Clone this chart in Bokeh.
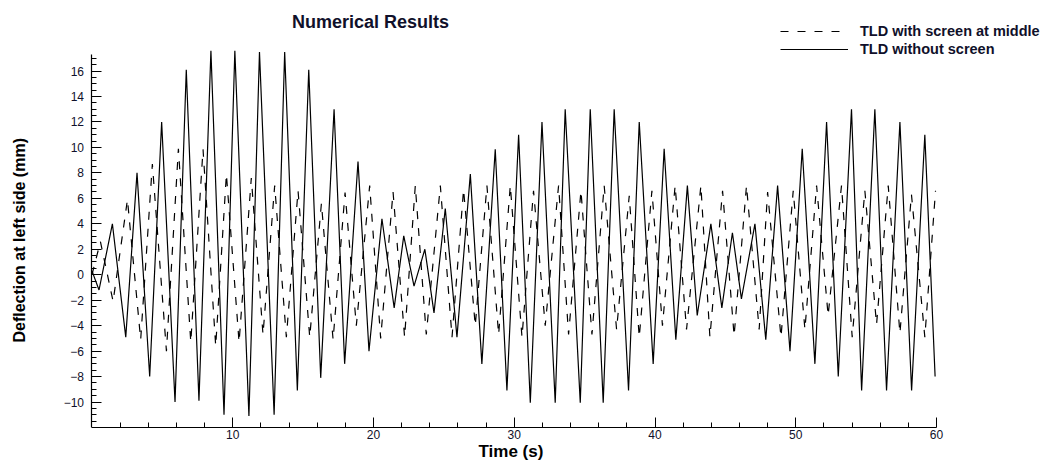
from bokeh.plotting import figure
from bokeh.models import Range1d, FixedTicker, Legend, LegendItem, Label, Title
from bokeh.embed import file_html
from bokeh.resources import INLINE

# TLD without screen (solid) : peaks and troughs
time_solid = [0.0, 0.5, 1.45, 2.4, 3.2, 4.1, 4.95, 5.9, 6.7, 7.6, 8.45, 9.38, 10.15, 11.15,
              11.9, 12.94, 13.69, 14.59, 15.4, 16.25, 17.2, 17.95, 18.9, 19.68, 20.6, 21.47,
              22.15, 22.88, 23.65, 24.3, 25.1, 25.93, 26.88, 27.7, 28.65, 29.48, 30.31, 31.14,
              31.97, 32.91, 33.62, 34.69, 35.4, 36.32, 37.1, 38.12, 38.88, 39.87, 40.65, 41.48,
              42.3, 43.0, 43.97, 44.75, 45.5, 46.14, 47.1, 47.87, 48.71, 49.59, 50.46, 51.36,
              52.19, 53.02, 53.96, 54.68, 55.62, 56.45, 57.4, 58.23, 59.17, 59.9]
defl_solid = [0.3, -1.2, 4.0, -4.9, 8.0, -8.0, 12.0, -10.0, 16.1, -9.9, 17.6, -11.0, 17.6, -11.1,
              17.5, -11.0, 17.5, -9.1, 16.1, -8.1, 13.0, -7.0, 8.9, -6.0, 4.4, -2.6,
              3.05, -0.9, 2.0, -3.0, 5.2, -4.9, 7.9, -7.0, 9.85, -9.1, 11.0, -10.05,
              12.0, -10.05, 13.0, -10.05, 13.0, -10.05, 13.0, -9.1, 12.0, -7.0, 9.9, -5.1,
              7.0, -3.2, 4.0, -2.6, 3.3, -1.9, 4.0, -5.1, 7.0, -6.0, 9.9, -7.0,
              12.0, -8.0, 13.0, -9.1, 13.0, -9.1, 12.0, -9.1, 11.0, -8.0]

# TLD with screen at middle (dashed)
time_dashed = [0.0, 0.6, 1.5, 2.52, 3.46, 4.29, 5.29, 6.14, 7.02, 7.89, 8.79, 9.55, 10.45, 11.32,
               12.15, 12.98, 13.81, 14.64, 15.47, 16.3, 17.13, 17.98, 18.78, 19.73, 20.51, 21.39,
               22.21, 22.97, 23.75, 24.75, 25.58, 26.4, 27.23, 28.06, 28.89, 29.72, 30.55, 31.37,
               32.2, 33.15, 33.86, 34.74, 35.52, 36.39, 37.27, 38.17, 38.88, 39.78, 40.53, 41.43,
               42.24, 43.26, 43.9, 44.8, 45.62, 46.5, 47.4, 48.0, 48.95, 49.82, 50.65, 51.48,
               52.3, 53.25, 54.01, 54.91, 55.74, 56.57, 57.4, 58.22, 59.17, 59.93]
defl_dashed = [0.0, 2.6, -2.1, 5.9, -5.1, 8.7, -6.0, 9.9, -5.3, 9.85, -5.6, 7.9, -5.3, 7.6,
               -4.7, 7.0, -4.9, 6.6, -4.9, 5.6, -5.1, 6.45, -4.0, 7.0, -5.0, 6.5,
               -4.9, 7.0, -4.7, 7.0, -4.9, 6.7, -4.0, 7.0, -4.7, 7.0, -4.9, 6.6,
               -4.0, 7.0, -4.7, 6.6, -4.7, 7.0, -4.3, 6.2, -4.9, 6.6, -4.0, 7.0,
               -4.3, 7.0, -4.9, 6.6, -4.8, 7.0, -4.3, 6.5, -4.9, 6.6, -4.3, 7.0,
               -3.2, 7.0, -4.9, 6.6, -3.9, 7.0, -4.6, 6.3, -4.9, 6.6]

x_major_ticks = [10, 20, 30, 40, 50, 60]
x_minor_ticks = [v for v in range(2, 60, 2) if v % 10 != 0]
y_major_ticks = [-10, -8, -6, -4, -2, 0, 2, 4, 6, 8, 10, 12, 14, 16]
y_minor_ticks = [v / 2 for v in range(-23, 35) if v % 4 != 0]
x_axis_bounds = (0, 60)
y_axis_bounds = (-12, 17.3)

title_text = "Numerical Results"
x_label = "Time (s)"
y_label = "Deflection at left side (mm)"
series_names = ["TLD with screen at middle", "TLD without screen"]

FONT = "Liberation Sans"

# The frame covers the whole top area (and the space left of t=0) so the title,
# legend and tick labels are not clipped; the axes are limited with bounds.
p = figure(frame_width=1014, frame_height=427,
           min_border_left=28, min_border_right=0, min_border_top=0, min_border_bottom=38,
           x_range=Range1d(-4.51, 67.53), y_range=Range1d(-12, 21.54),
           output_backend="svg", toolbar_location=None, tools="")
p.outline_line_color = None
p.grid.visible = False
p.background_fill_color = "white"
p.border_fill_color = "white"

r_dash = p.line(time_dashed, defl_dashed, line_color="black", line_width=1.2, line_dash="8 9")
r_solid = p.line(time_solid, defl_solid, line_color="black", line_width=1.2)

xa = p.xaxis[0]
xa.ticker = FixedTicker(ticks=x_major_ticks, minor_ticks=x_minor_ticks)
xa.bounds = x_axis_bounds
ya = p.yaxis[0]
ya.ticker = FixedTicker(ticks=y_major_ticks, minor_ticks=y_minor_ticks)
ya.bounds = y_axis_bounds
ya.fixed_location = 0
for ax in (xa, ya):
    ax.axis_line_color = "black"
    ax.axis_line_width = 1.2
    ax.major_tick_in = 10
    ax.major_tick_out = 0
    ax.minor_tick_in = 5
    ax.minor_tick_out = 0
    ax.major_tick_line_color = "black"
    ax.minor_tick_line_color = "black"
    ax.major_label_text_font = FONT
    ax.major_label_text_font_size = "12px"
    ax.major_label_text_color = "#10102a"
xa.major_label_standoff = 2
ya.major_label_standoff = 8

# axis titles as side-panel titles so they can be placed on the data area
p.add_layout(Title(text=x_label, align="left", offset=450, standoff=0,
                   vertical_align="top",
                   text_font=FONT, text_font_style="bold", text_font_size="17px",
                   text_color="black"), "below")
p.add_layout(Title(text=y_label, align="left", offset=85, standoff=0,
                   vertical_align="middle",
                   text_font=FONT, text_font_style="bold", text_font_size="16px",
                   text_color="black"), "left")

p.add_layout(Label(x=342, y=406, x_units="screen", y_units="screen", text=title_text,
                   text_font=FONT, text_font_style="bold", text_font_size="18px",
                   text_color="#10102a", text_align="center", text_baseline="middle"))

legend = Legend(items=[LegendItem(label=series_names[0], renderers=[r_dash]),
                       LegendItem(label=series_names[1], renderers=[r_solid])],
                location=(752, 369), orientation="vertical",
                glyph_width=68, glyph_height=18, label_height=18, label_standoff=12,
                spacing=0, padding=0, margin=0,
                border_line_color=None, background_fill_alpha=0,
                label_text_font=FONT, label_text_font_style="bold",
                label_text_font_size="14.5px", label_text_color="#10102a")
p.add_layout(legend, "center")

with open("out.html", "w") as f:
    f.write(file_html(p, INLINE))
